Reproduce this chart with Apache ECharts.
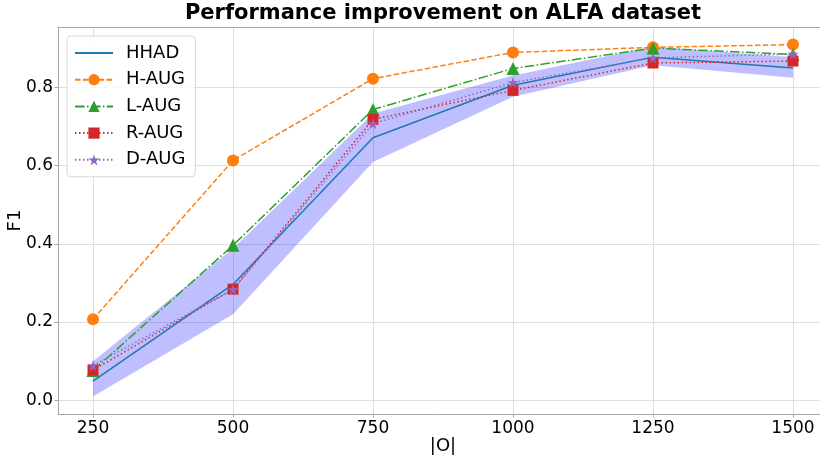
<!DOCTYPE html>
<html>
<head>
<meta charset="utf-8">
<script src="https://cdn.jsdelivr.net/npm/echarts@6/dist/echarts.min.js"></script>
<style>html,body{margin:0;padding:0;background:#fff}#c{width:820px;height:459px}</style>
</head>
<body>
<div id="c"></div>
<script>
const xs = [250, 500, 750, 1000, 1250, 1500];
const hhad = [0.049, 0.296, 0.671, 0.805, 0.877, 0.849];
const bandLower = [0.010, 0.220, 0.609, 0.776, 0.856, 0.824];
const bandUpper = [0.100, 0.388, 0.733, 0.830, 0.904, 0.877];
const hAug = [0.207, 0.613, 0.822, 0.889, 0.902, 0.909];
const lAug = [0.076, 0.396, 0.743, 0.848, 0.900, 0.884];
const rAug = [0.077, 0.284, 0.718, 0.792, 0.862, 0.867];
const dAug = [0.089, 0.283, 0.707, 0.812, 0.875, 0.885];
const xTicks = [250, 500, 750, 1000, 1250, 1500];
const yTicks = [0.0, 0.2, 0.4, 0.6, 0.8];

const FONT = 'DejaVu Sans';
const STAR = 'path://M50,0 L61,35 L98,35 L68,57 L79,91 L50,70 L21,91 L32,57 L2,35 L39,35 Z';
const pairs = arr => xs.map((x, i) => [x, arr[i]]);

const chart = echarts.init(document.getElementById('c'), null, {renderer: 'canvas'});
const axisGray = '#a6a6a6';
const gridGray = '#dedede';

function lineSeries(name, data, color, type, symbol, size) {
  return {
    name, type: 'line', data: pairs(data),
    symbol: symbol || 'circle', symbolSize: size || 1, showSymbol: !!symbol,
    lineStyle: {color, width: 1.5, type},
    itemStyle: {color: symbol ? color : 'rgba(0,0,0,0)'},
    emphasis: {disabled: true},
    animation: false
  };
}

chart.setOption({
  animation: false,
  graphic: [{
    type: 'text', x: 443, y: 14,
    style: {text: 'Performance improvement on ALFA dataset', textAlign: 'center', textVerticalAlign: 'middle',
      font: 'bold 21px "' + FONT + '"', fill: '#000'}
  }],
  grid: {left: 58, right: -8, top: 27, bottom: 45, outerBoundsMode: 'none', containLabel: false},
  legend: {
    data: ['HHAD', 'H-AUG', 'L-AUG', 'R-AUG', 'D-AUG'],
    orient: 'vertical', left: 67, top: 36,
    itemWidth: 38, itemHeight: 14, itemGap: 8.7,
    padding: [8, 10, 8, 7],
    backgroundColor: 'rgba(255,255,255,0.8)',
    borderColor: '#d9d9d9', borderWidth: 1, borderRadius: 4,
    textStyle: {fontFamily: FONT, fontSize: 18, color: '#000', lineHeight: 18, padding: [0, 0, 0, 8]}
  },
  xAxis: [{
    type: 'value', min: 187.5, max: 1562.5,
    name: '|O|', nameLocation: 'middle', nameGap: 23, nameMoveOverlap: false,
    nameTextStyle: {fontFamily: FONT, fontSize: 18, color: '#000'},
    axisLine: {show: true, onZero: false, lineStyle: {color: axisGray, width: 1}},
    axisTick: {show: true, length: 3.5, inside: false, customValues: xTicks, lineStyle: {color: axisGray}},
    axisLabel: {customValues: xTicks, margin: 6, fontFamily: FONT, fontSize: 17, color: '#000',
      formatter: v => String(v)},
    splitLine: {show: true, lineStyle: {color: gridGray, width: 1}}
  }, {
    type: 'value', position: 'top', min: 187.5, max: 1562.5,
    axisLine: {show: true, onZero: false, lineStyle: {color: axisGray, width: 1}},
    axisTick: {show: false}, axisLabel: {show: false}, splitLine: {show: false}
  }],
  yAxis: {
    type: 'value', min: -0.035, max: 0.954,
    name: 'F1', nameLocation: 'middle', nameGap: 34, nameRotate: 90, nameMoveOverlap: false,
    nameTextStyle: {fontFamily: FONT, fontSize: 18, color: '#000'},
    axisLine: {show: true, onZero: false, lineStyle: {color: axisGray, width: 1}},
    axisTick: {show: true, length: 3.5, customValues: yTicks, lineStyle: {color: axisGray}},
    axisLabel: {customValues: yTicks, margin: 5, fontFamily: FONT, fontSize: 17, color: '#000',
      formatter: v => Number(v).toFixed(1)},
    splitLine: {show: true, lineStyle: {color: gridGray, width: 1}}
  },
  series: [
    {
      name: 'band', type: 'custom', data: xs.map((x, i) => [x, bandLower[i], bandUpper[i]]),
      silent: true, z: 1,
      renderItem: function (params, api) {
        if (params.dataIndex !== 0) return null;
        const up = xs.map((x, i) => api.coord([x, bandUpper[i]]));
        const lo = xs.map((x, i) => api.coord([x, bandLower[i]])).reverse();
        return {type: 'polygon', shape: {points: up.concat(lo)}, style: {fill: 'rgba(0,0,255,0.25)', stroke: null}};
      }
    },
    lineSeries('HHAD', hhad, '#1f77b4', 'solid'),
    lineSeries('H-AUG', hAug, '#ff7f0e', [5.5, 2.4], 'circle', 12),
    lineSeries('L-AUG', lAug, '#2ca02c', [9.6, 2.4, 1.5, 2.4], 'triangle', 13),
    lineSeries('R-AUG', rAug, '#d62728', [1.5, 2.5], 'rect', 11),
    lineSeries('D-AUG', dAug, '#9467bd', [1.5, 2.5], STAR, 11)
  ]
});
</script>
</body>
</html>
